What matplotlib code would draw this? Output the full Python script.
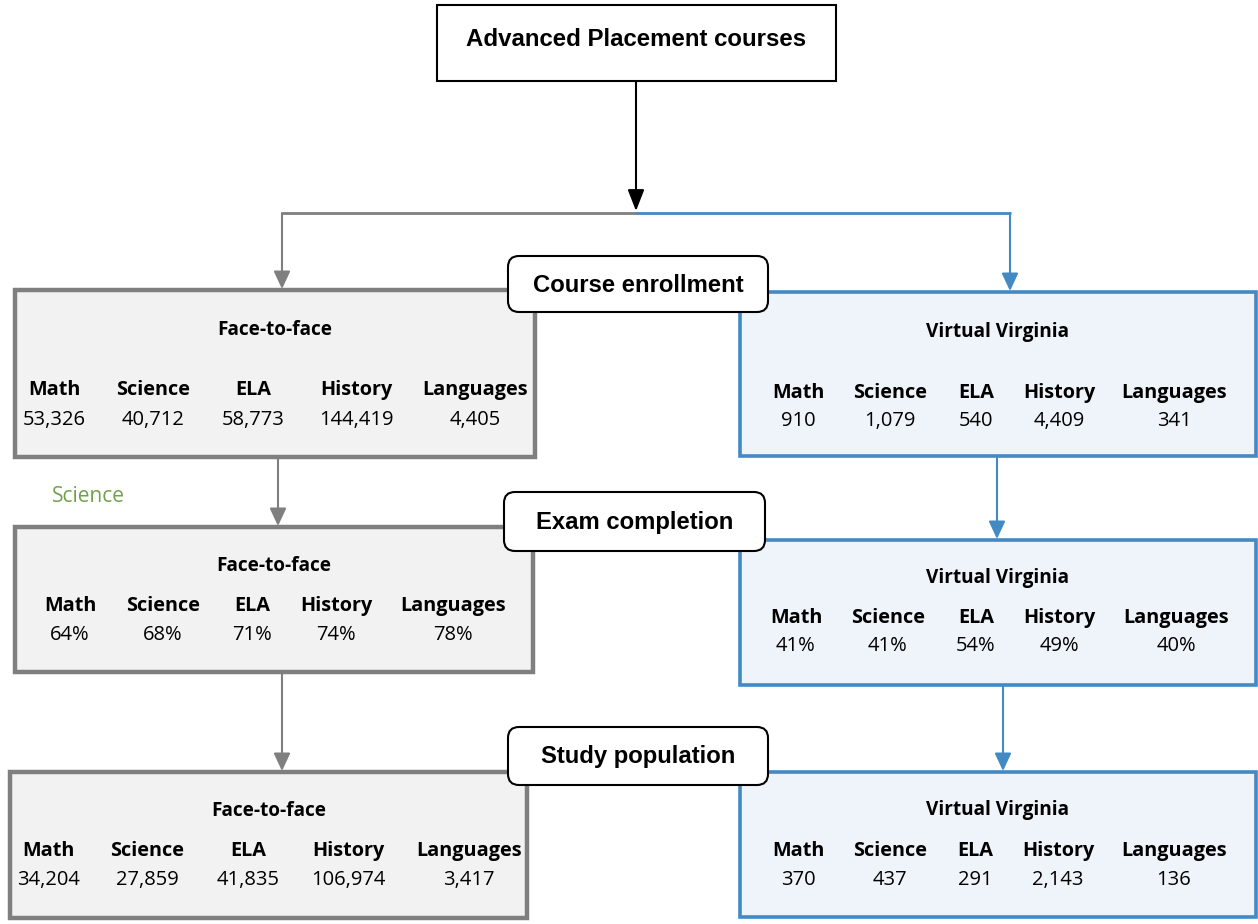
import matplotlib
matplotlib.use("Agg")
import matplotlib.pyplot as plt
from matplotlib.patches import Rectangle, FancyBboxPatch, FancyArrowPatch

# ---- data ----
categories = ["Math", "Science", "ELA", "History", "Languages"]
ftf_enrollment = ["53,326", "40,712", "58,773", "144,419", "4,405"]
vv_enrollment = ["910", "1,079", "540", "4,409", "341"]
ftf_exam = ["64%", "68%", "71%", "74%", "78%"]
vv_exam = ["41%", "41%", "54%", "49%", "40%"]
ftf_study = ["34,204", "27,859", "41,835", "106,974", "3,417"]
vv_study = ["370", "437", "291", "2,143", "136"]
stage_labels = ["Course enrollment", "Exam completion", "Study population"]
top_label = "Advanced Placement courses"
ftf_title = "Face-to-face"
vv_title = "Virtual Virginia"
stray_label = "Science"

W, H = 1258, 924
fig = plt.figure(figsize=(W / 100, H / 100), dpi=100)
ax = fig.add_axes([0, 0, 1, 1])
ax.set_xlim(0, W)
ax.set_ylim(H, 0)
ax.axis("off")

GRAY = "#7f7f7f"
GRAY_FILL = "#f2f2f2"
BLUE = "#4389c3"
BLUE_FILL = "#eff4fa"
BODY_FONT = ["Open Sans", "DejaVu Sans"]
HEAD_FONT = ["Liberation Sans", "DejaVu Sans"]
PX = 0.72  # pixels -> points


def arrow(x0, y0, x1, y1, color, lw=1.5, hw=7, hl=15):
    ax.add_patch(FancyArrowPatch((x0, y0), (x1, y1),
                                 arrowstyle=f"-|>,head_width={hw*PX},head_length={hl*PX}",
                                 color=color, lw=lw, mutation_scale=1,
                                 shrinkA=0, shrinkB=0, zorder=1))


def line(xs, ys, color, lw=1.5):
    ax.plot(xs, ys, color=color, lw=lw, solid_capstyle="butt", zorder=1)


# ---- connectors ----
arrow(636, 81, 636, 211, "black", lw=1.5, hw=7, hl=18)
line([282, 637], [213, 213], GRAY, lw=2)
line([636, 1011], [213, 213], BLUE, lw=2)
arrow(282, 213, 282, 289, GRAY, hw=7, hl=15)
arrow(1010, 213, 1010, 291, BLUE, hw=7, hl=15)
arrow(278, 457, 278, 526, GRAY, hw=7, hl=15)
arrow(997, 456, 997, 539, BLUE, hw=7, hl=15)
arrow(282, 672, 282, 771, GRAY, hw=7, hl=15)
arrow(1003, 685, 1003, 771, BLUE, hw=7, hl=15)

# ---- top box ----
ax.add_patch(Rectangle((437, 5), 399, 76, facecolor="white", edgecolor="black", lw=1.5, zorder=2))
ax.text(636, 40, top_label, ha="center", va="center", fontsize=17.3, fontweight="bold",
        family=HEAD_FONT, zorder=3)


def panel(x, y, w, h, edge, fill, lw, title, title_y, label_y, value_y, cols, values):
    ax.add_patch(Rectangle((x, y), w, h, facecolor=fill, edgecolor=edge, lw=lw, zorder=2))
    ax.text(x + w / 2, title_y, title, ha="center", va="center", fontsize=13.7,
            fontweight="bold", family=BODY_FONT, zorder=3)
    for cx, cat, val in zip(cols, categories, values):
        ax.text(cx, label_y, cat, ha="center", va="center", fontsize=14.3,
                fontweight="bold", family=BODY_FONT, zorder=3)
        ax.text(cx, value_y, val, ha="center", va="center", fontsize=14.5,
                family=BODY_FONT, zorder=3)


# Face-to-face panels
panel(15, 290, 520, 167, GRAY, GRAY_FILL, 3.2, ftf_title, 330, 390, 420,
      [54, 153, 253, 356, 475], ftf_enrollment)
panel(15, 527, 518, 145, GRAY, GRAY_FILL, 3.2, ftf_title, 566, 606, 635,
      [70, 163, 252, 336, 453], ftf_exam)
panel(10, 772, 517, 146, GRAY, GRAY_FILL, 3.2, ftf_title, 811, 851, 880,
      [48, 147, 248, 348, 469], ftf_study)

# Virtual Virginia panels
panel(740, 292, 516, 164, BLUE, BLUE_FILL, 2.6, vv_title, 332, 393, 421,
      [798, 890, 976, 1059, 1174], vv_enrollment)
panel(740, 540, 516, 145, BLUE, BLUE_FILL, 2.6, vv_title, 578, 618, 646,
      [796, 888, 976, 1059, 1176], vv_exam)
panel(740, 772, 516, 145, BLUE, BLUE_FILL, 2.6, vv_title, 810, 851, 880,
      [798, 890, 975, 1058, 1174], vv_study)

# stage label boxes
stage_boxes = [(508, 256, 260, 56), (504, 492, 261, 59), (508, 727, 260, 58)]
for (bx, by, bw, bh), lab in zip(stage_boxes, stage_labels):
    ax.add_patch(FancyBboxPatch((bx, by), bw, bh, boxstyle="round,pad=0,rounding_size=11",
                                facecolor="white", edgecolor="black", lw=1.5, zorder=4))
    ax.text(bx + bw / 2, by + bh / 2 + 1, lab, ha="center", va="center", fontsize=17.2,
            fontweight="bold", family=HEAD_FONT, zorder=5)

ax.text(88, 496, stray_label, ha="center", va="center", fontsize=15, color="#70a04a",
        family=BODY_FONT, zorder=3)

fig.savefig("out.png", dpi=100)
